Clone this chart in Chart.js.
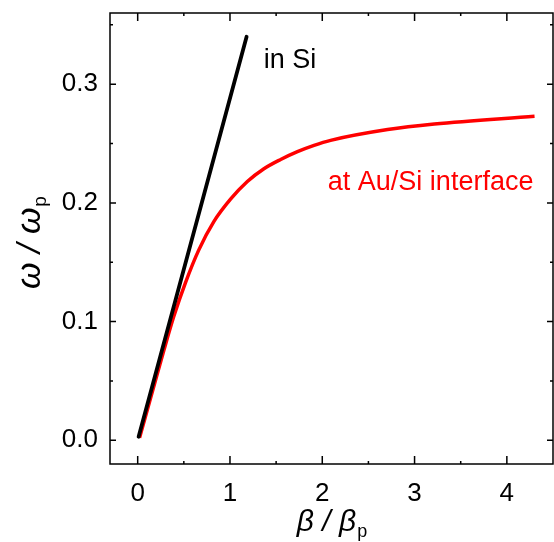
<!DOCTYPE html>
<html>
<head>
<meta charset="utf-8">
<script src="https://cdn.jsdelivr.net/npm/chart.js@4.4.1/dist/chart.umd.min.js"></script>
<style>
  html, body { margin: 0; padding: 0; background: #fff; }
  #wrap { width: 554px; height: 542px; }
</style>
</head>
<body>
<div id="wrap"><canvas id="dispersion"></canvas></div>
<script>
// light line in bulk Si
const siBeta = [0.01, 1.18];
const siOmega = [0.003, 0.340];

// surface plasmon at the Au/Si interface
const auBeta = [0.02, 0.19, 0.283, 0.39, 0.518, 0.66, 0.825, 1.006, 1.188, 1.368, 1.549, 1.731, 1.911, 2.09, 2.708, 3.214, 4.30];
const auOmega = [0.002, 0.0496, 0.0756, 0.104, 0.1328, 0.160, 0.1842, 0.2031, 0.218, 0.2288, 0.2366, 0.2432, 0.2485, 0.2527, 0.2618, 0.2665, 0.273];

const xTicks = [0, 1, 2, 3, 4];
const xMinor = [0.5, 1.5, 2.5, 3.5];
const yTicks = [0.0, 0.1, 0.2, 0.3];
const yMinor = [0.05, 0.15, 0.25, 0.35];

const FONT = '"Liberation Sans", Arial, sans-serif';

function toPoints(xs, ys) {
    return xs.map((x, i) => ({ x: x, y: ys[i] }));
}

// frame + inward ticks on all four sides, curve labels, axis titles
const framePlugin = {
    id: 'frame',
    afterDraw(chart) {
        const ctx = chart.ctx;
        const a = chart.chartArea;
        const xs = chart.scales.x;
        const ys = chart.scales.y;

        ctx.save();
        ctx.strokeStyle = '#000';
        ctx.lineWidth = 1.5;
        ctx.strokeRect(a.left, a.top, a.right - a.left, a.bottom - a.top);

        ctx.beginPath();
        xTicks.forEach(v => {
            const px = xs.getPixelForValue(v);
            ctx.moveTo(px, a.bottom); ctx.lineTo(px, a.bottom - 8);
            ctx.moveTo(px, a.top); ctx.lineTo(px, a.top + 8);
        });
        xMinor.forEach(v => {
            const px = xs.getPixelForValue(v);
            ctx.moveTo(px, a.bottom); ctx.lineTo(px, a.bottom - 3);
            ctx.moveTo(px, a.top); ctx.lineTo(px, a.top + 3);
        });
        yTicks.forEach(v => {
            const py = ys.getPixelForValue(v);
            ctx.moveTo(a.left, py); ctx.lineTo(a.left + 6, py);
            ctx.moveTo(a.right, py); ctx.lineTo(a.right - 6, py);
        });
        yMinor.forEach(v => {
            const py = ys.getPixelForValue(v);
            ctx.moveTo(a.left, py); ctx.lineTo(a.left + 3, py);
            ctx.moveTo(a.right, py); ctx.lineTo(a.right - 3, py);
        });
        ctx.stroke();

        // curve labels
        ctx.textBaseline = 'alphabetic';
        ctx.textAlign = 'left';
        ctx.font = '27px ' + FONT;
        ctx.fillStyle = '#000';
        ctx.fillText('in Si', xs.getPixelForValue(1.365), ys.getPixelForValue(0.3138));
        ctx.fillStyle = '#ff0000';
        ctx.fillText('at Au/Si interface', xs.getPixelForValue(2.06), ys.getPixelForValue(0.2106));

        // axis titles with subscripts
        ctx.fillStyle = '#000';
        drawSubTitle(ctx, 'β / β', 'p', (a.left + a.right) / 2, 531, 30, 18);
        ctx.translate(40, 243);
        ctx.rotate(-Math.PI / 2);
        drawSubTitle(ctx, 'ω / ω', 'p', 0, 0, 34, 19);
        ctx.restore();
    }
};

function drawSubTitle(ctx, main, sub, cx, baseline, size, subSize) {
    const mainFont = 'italic ' + size + 'px ' + FONT;
    const subFont = subSize + 'px ' + FONT;
    ctx.font = mainFont;
    const w1 = ctx.measureText(main).width;
    ctx.font = subFont;
    const w2 = ctx.measureText(sub).width;
    const x0 = cx - (w1 + w2) / 2;
    ctx.textAlign = 'left';
    ctx.font = mainFont;
    ctx.fillText(main, x0, baseline);
    ctx.font = subFont;
    ctx.fillText(sub, x0 + w1 + 1, baseline + 6);
}

new Chart(document.getElementById('dispersion'), {
    type: 'scatter',
    data: {
        datasets: [{
            label: 'in Si',
            data: toPoints(siBeta, siOmega),
            showLine: true,
            borderColor: '#000000',
            borderWidth: 3.8,
            pointRadius: 0,
            borderCapStyle: 'round'
        }, {
            label: 'at Au/Si interface',
            data: toPoints(auBeta, auOmega),
            showLine: true,
            borderColor: '#ff0000',
            borderWidth: 3.5,
            pointRadius: 0,
            cubicInterpolationMode: 'monotone'
        }]
    },
    options: {
        responsive: true,
        maintainAspectRatio: false,
        animation: false,
        layout: { padding: { top: 13, right: 1, left: 0, bottom: 0 } },
        plugins: {
            legend: { display: false },
            tooltip: { enabled: false }
        },
        scales: {
            x: {
                type: 'linear',
                min: -0.3,
                max: 4.5,
                afterFit(scale) {
                    scale.height = 78;
                    scale.paddingLeft = 0;
                    scale.paddingRight = 0;
                },
                afterBuildTicks(scale) { scale.ticks = xTicks.map(v => ({ value: v })); },
                grid: { display: false, drawTicks: false },
                border: { display: false },
                ticks: {
                    padding: 14,
                    color: '#000',
                    font: { family: FONT, size: 26 },
                    callback: v => v.toFixed(0)
                }
            },
            y: {
                type: 'linear',
                min: -0.02,
                max: 0.36,
                afterFit(scale) {
                    scale.width = 110;
                    scale.paddingTop = 0;
                    scale.paddingBottom = 0;
                },
                afterBuildTicks(scale) { scale.ticks = yTicks.map(v => ({ value: v })); },
                grid: { display: false, drawTicks: false },
                border: { display: false },
                ticks: {
                    padding: 12,
                    color: '#000',
                    font: { family: FONT, size: 26 },
                    callback: v => v.toFixed(1)
                }
            }
        }
    },
    plugins: [framePlugin]
});
</script>
</body>
</html>
